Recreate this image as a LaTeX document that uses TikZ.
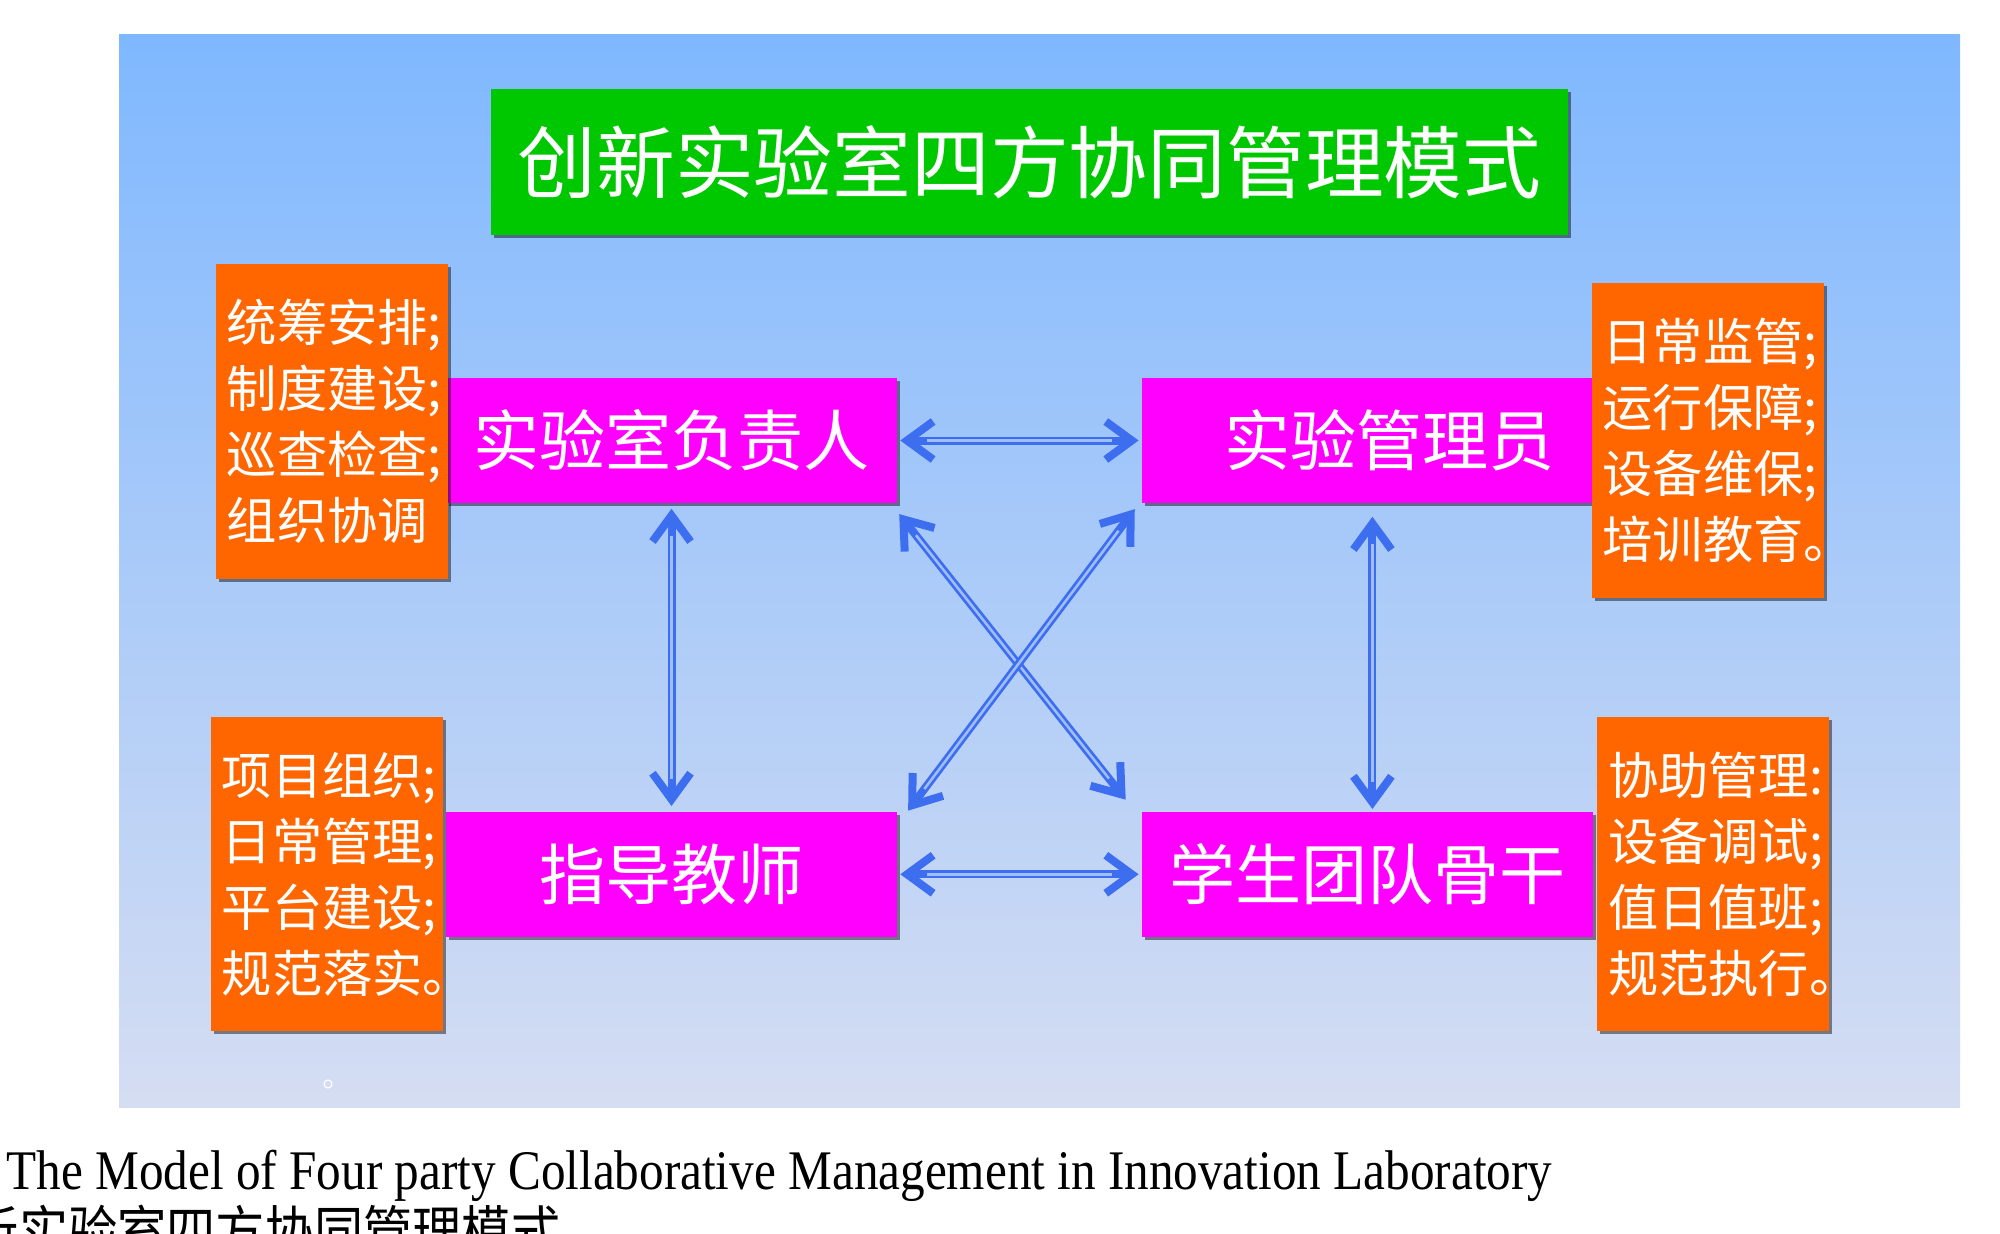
\documentclass[tikz,border=0pt]{standalone}
\usepackage{fontspec}
\setmainfont{Liberation Serif}
\newfontfamily\cjk{Noto Sans CJK SC}
\usepackage{tikz}
\usetikzlibrary{arrows.meta,shadows}
\definecolor{panetop}{RGB}{127,184,255}
\definecolor{panebottom}{RGB}{213,221,242}
\definecolor{titlecolor}{RGB}{0,200,0}
\definecolor{rolecolor}{RGB}{255,0,255}
\definecolor{dutycolor}{RGB}{255,102,0}
\definecolor{linkcolor}{RGB}{62,110,240}
\definecolor{linkinner}{RGB}{160,190,255}

\begin{document}
\begin{tikzpicture}[x=0.01cm,y=-0.01cm,node distance=6.955cm,
                    >={Straight Barb[length=0.26cm,width=0.38cm]}]
  \tikzstyle{boxshadow}=[drop shadow={shadow xshift=0.03cm,shadow yshift=-0.03cm,fill=black,opacity=0.45}]
  \tikzstyle{titlebox}=[boxshadow,fill=titlecolor,text=white,minimum width=10.77cm,minimum height=1.46cm,
                        font=\cjk\fontsize{22.4}{26}\selectfont]
  \tikzstyle{rolebox}=[boxshadow,fill=rolecolor,text=white,minimum width=4.5cm,minimum height=1.25cm,
                       font=\cjk\fontsize{18.8}{22}\selectfont]
  \tikzstyle{dutybox}=[boxshadow,fill=dutycolor,text=white,text width=2.1cm,inner xsep=0.11cm,
                       minimum height=3.14cm,align=left,font=\cjk\fontsize{14.3}{18.8}\selectfont]
  \tikzstyle{link}=[<->,draw=linkcolor,line width=0.08cm,shorten >=0.03cm,shorten <=0.03cm,
                    postaction={draw=linkinner,line width=0.025cm,-,shorten >=0.3cm,shorten <=0.3cm}]

  \useasboundingbox (0,0) rectangle (2000,1233);
  \clip (0,0) rectangle (2000,1233);
  \shade[top color=panetop,bottom color=panebottom] (119,34) rectangle (1960,1107);

  \node[titlebox] (title) at (1029.5,162) {创新实验室四方协同管理模式};

  \node[rolebox] (lead)                 at (671.5,440.5) {实验室负责人};
  \node[rolebox] (admin)   [right of=lead]              {\hspace*{0.44cm}实验管理员};
  \node[rolebox] (teacher) [below of=lead,node distance=4.335cm] {指导教师};
  \node[rolebox] (student) [right of=teacher]           {学生团队骨干};

  \node[dutybox] (leadduty)    [left of=lead,node distance=3.395cm,yshift=0.19cm]
        {统筹安排;\\制度建设;\\巡查检查;\\组织协调};
  \node[dutybox] (adminduty)   [right of=admin,node distance=3.4cm]
        {日常监管;\\运行保障;\\设备维保;\\培训教育。};
  \node[dutybox] (teacherduty) [left of=teacher,node distance=3.445cm]
        {项目组织;\\日常管理;\\平台建设;\\规范落实。};
  \node[dutybox] (studentduty) [right of=student,node distance=3.455cm]
        {协助管理:\\设备调试;\\值日值班;\\规范执行。};

  \draw[link] (lead) -- (admin);
  \draw[link] (teacher) -- (student);
  \draw[link] ([yshift=-0.02cm]lead.south) -- ([yshift=0.02cm]teacher.north);
  \draw[link] ([shift={(5,10)}]admin.south) -- ([shift={(5,1)}]student.north);
  \draw[link] ([shift={(0,8)}]lead.south east) -- ([shift={(-14,-9)}]student.north west);
  \draw[link] ([shift={(-5,3)}]admin.south west) -- ([shift={(9,2)}]teacher.north east);

  \node[circle,draw=white,line width=0.012cm,inner sep=0pt,minimum size=0.08cm] (dot) at (328,1084) {};

  \node[anchor=base west,inner sep=0pt,font=\fontsize{15.9}{18}\selectfont] (captionen) at (6,1189)
        {\scalebox{0.88}[1]{The Model of Four party Collaborative Management in Innovation Laboratory}};
  \node[anchor=base east,inner sep=0pt,font=\cjk\fontsize{15.9}{18}\selectfont] (captionzh) at (561,1252)
        {\scalebox{0.88}[1]{创新实验室四方协同管理模式}};
\end{tikzpicture}
\end{document}
